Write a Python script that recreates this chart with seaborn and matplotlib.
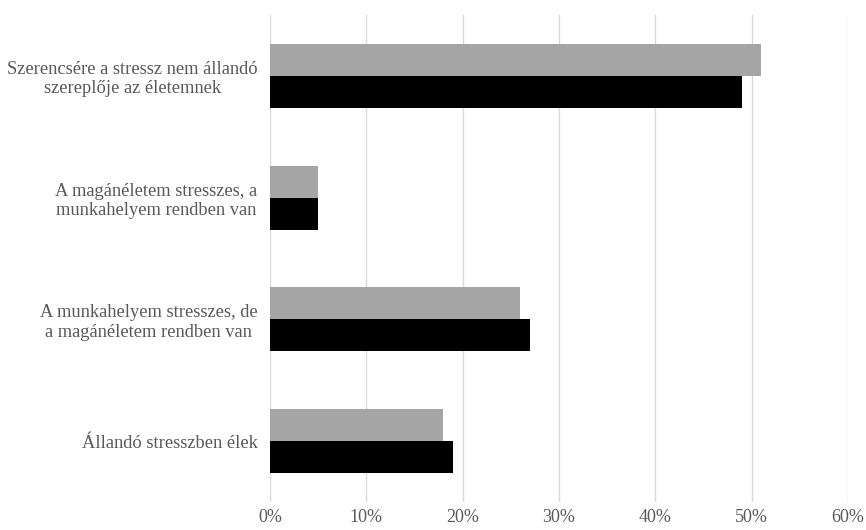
import pandas as pd
import matplotlib
matplotlib.use('Agg')
import matplotlib.pyplot as plt
import seaborn as sns
from matplotlib.ticker import PercentFormatter

categories = [
    'Szerencsére a stressz nem állandó\nszereplője az életemnek',
    'A magánéletem stresszes, a\nmunkahelyem rendben van',
    'A munkahelyem stresszes, de\na magánéletem rendben van',
    'Állandó stresszben élek',
]
series_names = ['Sorozat 1', 'Sorozat 2']
grey_values = [51, 5, 26, 18]
black_values = [49, 5, 27, 19]
x_ticks = [0, 10, 20, 30, 40, 50, 60]

df = pd.DataFrame({
    'kategoria': categories * 2,
    'sorozat': [series_names[0]] * len(categories) + [series_names[1]] * len(categories),
    'ertek': grey_values + black_values,
})

sns.set_theme(style='white')
plt.rcParams['font.family'] = ['Liberation Serif', 'DejaVu Serif']

fig = plt.figure(figsize=(8.66, 5.30), dpi=100)
ax = fig.add_axes([0.3118, 0.0528, 0.979 - 0.3118, 0.9717 - 0.0528])

sns.barplot(data=df, y='kategoria', x='ertek', hue='sorozat', orient='h',
            palette=['#a5a5a5', '#000000'], width=0.525, saturation=1,
            edgecolor='none', legend=False, ax=ax, zorder=3)

ax.set_xlim(0, 60)
ax.set_ylim(3.5, -0.5)
ax.set_xticks(x_ticks)
ax.xaxis.set_major_formatter(PercentFormatter(decimals=0))
ax.grid(axis='x', color='#d9d9d9', linewidth=1, zorder=0)
ax.grid(axis='y', visible=False)
for s in ax.spines.values():
    s.set_visible(False)
ax.set_xlabel('')
ax.set_ylabel('')
ax.tick_params(axis='x', length=0, pad=5, labelsize=13, colors='#595959')
ax.tick_params(axis='y', length=0, pad=9, labelsize=13.3, colors='#595959')
for lbl in ax.get_yticklabels():
    lbl.set_multialignment('center')

fig.savefig('out.png', dpi=100)
